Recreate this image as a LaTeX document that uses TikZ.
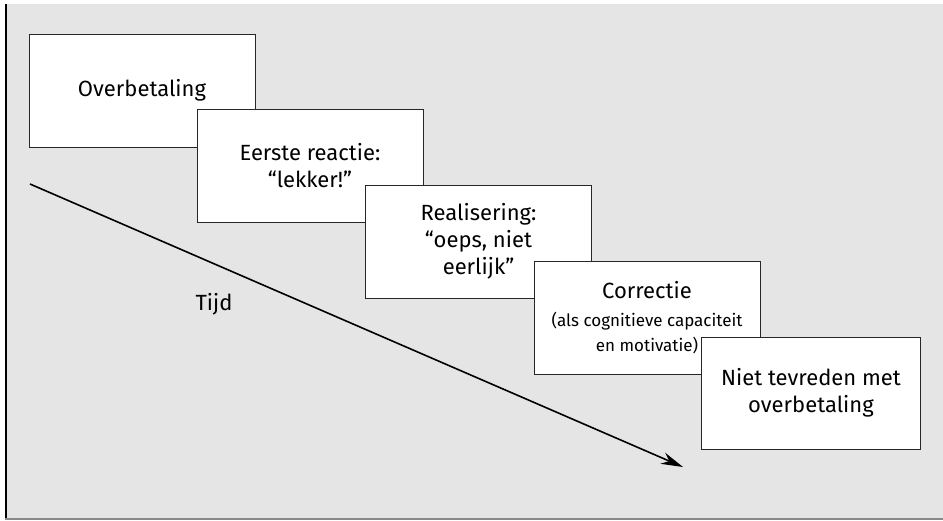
\documentclass[tikz,border=0pt]{standalone}
\usepackage{fontspec}
\setmainfont{Fira Sans}
\usetikzlibrary{arrows.meta}
\definecolor{bggray}{HTML}{E5E5E5}
\definecolor{edgegray}{HTML}{8A8A8A}
\tikzset{
  stagebox/.style={draw=black!85, line width=1pt, fill=white, minimum width=226pt, minimum height=113pt, inner sep=0pt, align=center, font=\fontsize{22}{27}\selectfont},
  timearrow/.style={line width=1.6pt, -{Stealth[length=22pt,width=12pt]}},
  lbl/.style={font=\fontsize{22}{27}\selectfont, inner sep=0pt}
}
\begin{document}
\begin{tikzpicture}[x=1pt,y=-1pt]
\useasboundingbox (0,0) rectangle (943,520);
\fill[white] (0,0) rectangle (943,520);
\fill[bggray] (5,4) rectangle (943,520);
\draw[black, line width=2pt] (6,4) -- (6,520);
\draw[edgegray, line width=1.5pt] (5,519) -- (943,519);

\node[stagebox] (b1) at (142,90.5) {Overbetaling};
\node[stagebox] (b2) at (310,166) {Eerste reactie:\\“lekker!”};
\node[stagebox] (b3) at (478.5,241.5) {Realisering:\\“oeps, niet\\eerlijk”};
\node[stagebox] (b4) at (647,317.5) {Correctie\\[1pt]{\fontsize{17}{25}\selectfont (als cognitieve capaciteit}\\[-2pt]{\fontsize{17}{25}\selectfont en motivatie)}};
\node[stagebox, minimum width=219pt, minimum height=112pt] (b5) at (811,393) {Niet tevreden met\\overbetaling};

\coordinate (s) at (30,184);
\coordinate (e) at (683,467);
\draw[timearrow] (s) -- (e);
\node[lbl] (tijd) at (214,304) {Tijd};
\end{tikzpicture}
\end{document}
